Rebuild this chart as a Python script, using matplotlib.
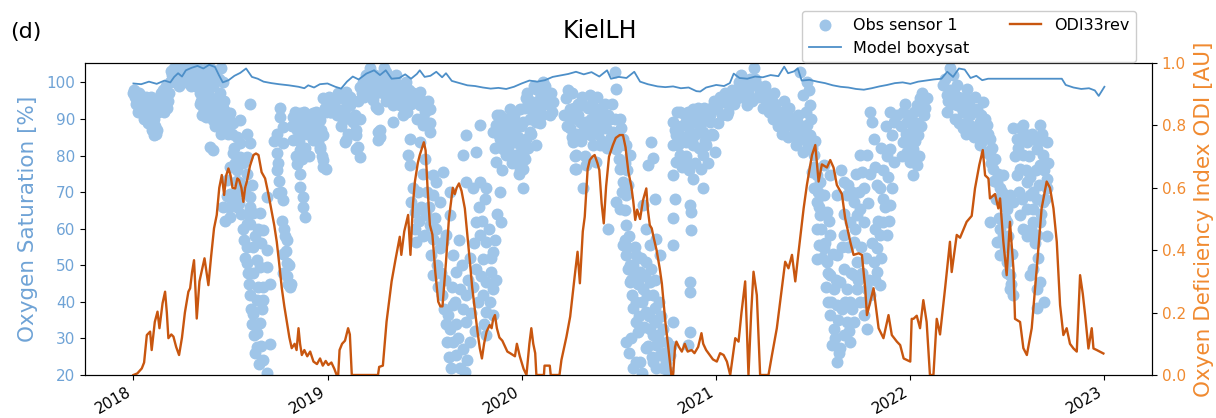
import numpy as np
import pandas as pd
import matplotlib
matplotlib.use("Agg")
import matplotlib.pyplot as plt

# ---------------- data (time as decimal years) ----------------
odi_t = [2018.000, 2018.020, 2018.043, 2018.055, 2018.069, 2018.086, 2018.094, 2018.110, 2018.124, 2018.134,
         2018.150, 2018.163, 2018.172, 2018.180, 2018.195, 2018.206, 2018.220, 2018.235, 2018.250, 2018.265,
         2018.283, 2018.292, 2018.302, 2018.312, 2018.319, 2018.326, 2018.340, 2018.355, 2018.366, 2018.376,
         2018.386, 2018.400, 2018.415, 2018.429, 2018.442, 2018.455, 2018.467, 2018.478, 2018.489, 2018.500,
         2018.510, 2018.524, 2018.535, 2018.544, 2018.556, 2018.566, 2018.575, 2018.584, 2018.600, 2018.618,
         2018.631, 2018.644, 2018.660, 2018.678, 2018.695, 2018.712, 2018.725, 2018.738, 2018.750, 2018.764,
         2018.777, 2018.790, 2018.803, 2018.815, 2018.830, 2018.840, 2018.850, 2018.858, 2018.867, 2018.880,
         2018.895, 2018.910, 2018.927, 2018.945, 2018.961, 2018.975, 2018.990, 2019.004, 2019.020, 2019.035,
         2019.047, 2019.055, 2019.062, 2019.075, 2019.090, 2019.106, 2019.115, 2019.125, 2019.260, 2019.266,
         2019.285, 2019.304, 2019.330, 2019.350, 2019.372, 2019.380, 2019.395, 2019.415, 2019.427, 2019.440,
         2019.450, 2019.465, 2019.475, 2019.496, 2019.505, 2019.515, 2019.527, 2019.540, 2019.555, 2019.570,
         2019.581, 2019.592, 2019.610, 2019.625, 2019.638, 2019.645, 2019.655, 2019.665, 2019.677, 2019.690,
         2019.707, 2019.720, 2019.733, 2019.745, 2019.758, 2019.772, 2019.784, 2019.795, 2019.806, 2019.819,
         2019.835, 2019.845, 2019.853, 2019.862, 2019.872, 2019.885, 2019.900, 2019.915, 2019.926, 2019.940,
         2019.955, 2019.965, 2019.975, 2019.990, 2020.010, 2020.025, 2020.040, 2020.050, 2020.060, 2020.070,
         2020.076, 2020.115, 2020.118, 2020.145, 2020.150, 2020.195, 2020.205, 2020.231, 2020.250, 2020.273,
         2020.288, 2020.300, 2020.315, 2020.325, 2020.340, 2020.351, 2020.365, 2020.376, 2020.390, 2020.400,
         2020.412, 2020.423, 2020.435, 2020.450, 2020.470, 2020.485, 2020.505, 2020.522, 2020.535, 2020.550,
         2020.565, 2020.575, 2020.585, 2020.595, 2020.610, 2020.625, 2020.642, 2020.650, 2020.660, 2020.670,
         2020.680, 2020.695, 2020.711, 2020.722, 2020.740, 2020.755, 2020.771, 2020.780, 2020.790, 2020.797,
         2020.810, 2020.825, 2020.840, 2020.855, 2020.875, 2020.890, 2020.909, 2020.926, 2020.935, 2020.950,
         2020.969, 2020.985, 2021.003, 2021.020, 2021.038, 2021.055, 2021.072, 2021.098, 2021.115, 2021.130,
         2021.149, 2021.166, 2021.180, 2021.192, 2021.209, 2021.226, 2021.269, 2021.287, 2021.312, 2021.338,
         2021.355, 2021.372, 2021.390, 2021.407, 2021.424, 2021.450, 2021.467, 2021.493, 2021.510, 2021.527,
         2021.544, 2021.570, 2021.587, 2021.604, 2021.621, 2021.647, 2021.664, 2021.690, 2021.707, 2021.733,
         2021.750, 2021.767, 2021.776, 2021.793, 2021.810, 2021.836, 2021.861, 2021.887, 2021.904, 2021.930,
         2021.947, 2021.965, 2021.999, 2022.007, 2022.016, 2022.033, 2022.050, 2022.067, 2022.084, 2022.101,
         2022.119, 2022.136, 2022.153, 2022.179, 2022.204, 2022.213, 2022.239, 2022.256, 2022.290, 2022.316,
         2022.333, 2022.355, 2022.373, 2022.385, 2022.402, 2022.410, 2022.436, 2022.453, 2022.462, 2022.479,
         2022.496, 2022.513, 2022.531, 2022.539, 2022.565, 2022.582, 2022.600, 2022.625, 2022.651, 2022.676,
         2022.702, 2022.719, 2022.737, 2022.754, 2022.771, 2022.788, 2022.805, 2022.822, 2022.840, 2022.857,
         2022.874, 2022.888, 2022.900, 2022.917, 2022.934, 2022.943, 2022.960, 2022.994]
odi_v = [0.0, 0.005, 0.021, 0.04, 0.128, 0.139, 0.08, 0.17, 0.203, 0.15,
         0.23, 0.267, 0.20, 0.118, 0.13, 0.123, 0.09, 0.064, 0.12, 0.20,
         0.267, 0.278, 0.33, 0.368, 0.28, 0.181, 0.30, 0.342, 0.374, 0.33,
         0.288, 0.38, 0.47, 0.513, 0.60, 0.641, 0.577, 0.64, 0.662, 0.64,
         0.60, 0.598, 0.63, 0.625, 0.60, 0.555, 0.60, 0.62, 0.67, 0.705,
         0.71, 0.705, 0.65, 0.63, 0.58, 0.523, 0.48, 0.427, 0.36, 0.278,
         0.22, 0.171, 0.12, 0.086, 0.10, 0.08, 0.15, 0.10, 0.064, 0.08,
         0.06, 0.075, 0.043, 0.035, 0.053, 0.03, 0.045, 0.032, 0.04, 0.02,
         0.0, 0.0, 0.08, 0.10, 0.11, 0.15, 0.13, 0.0, 0.0, 0.026,
         0.03, 0.171, 0.30, 0.37, 0.443, 0.385, 0.46, 0.513, 0.385, 0.55,
         0.62, 0.68, 0.705, 0.746, 0.72, 0.60, 0.481, 0.45, 0.33, 0.235,
         0.22, 0.22, 0.363, 0.50, 0.566, 0.60, 0.58, 0.60, 0.614, 0.59,
         0.534, 0.45, 0.363, 0.28, 0.214, 0.14, 0.086, 0.053, 0.10, 0.139,
         0.16, 0.15, 0.18, 0.192, 0.15, 0.12, 0.11, 0.09, 0.075, 0.07,
         0.064, 0.06, 0.10, 0.06, 0.02, 0.0, 0.10, 0.15, 0.10, 0.07,
         0.0, 0.0, 0.03, 0.03, 0.0, 0.0, 0.048, 0.123, 0.187, 0.315,
         0.395, 0.294, 0.46, 0.507, 0.66, 0.689, 0.70, 0.705, 0.68, 0.657,
         0.55, 0.486, 0.604, 0.70, 0.737, 0.76, 0.769, 0.769, 0.73, 0.65,
         0.604, 0.556, 0.497, 0.53, 0.50, 0.56, 0.598, 0.53, 0.48, 0.47,
         0.44, 0.40, 0.342, 0.294, 0.171, 0.09, 0.0, 0.0, 0.09, 0.107,
         0.09, 0.075, 0.10, 0.075, 0.08, 0.07, 0.09, 0.134, 0.10, 0.08,
         0.064, 0.05, 0.043, 0.07, 0.064, 0.043, 0.0, 0.118, 0.107, 0.20,
         0.30, 0.0, 0.20, 0.331, 0.256, 0.0, 0.0, 0.064, 0.15, 0.278,
         0.363, 0.342, 0.385, 0.30, 0.395, 0.534, 0.61, 0.705, 0.737, 0.62,
         0.675, 0.665, 0.689, 0.665, 0.609, 0.58, 0.502, 0.427, 0.385, 0.39,
         0.385, 0.278, 0.192, 0.235, 0.278, 0.15, 0.118, 0.192, 0.128, 0.107,
         0.096, 0.053, 0.043, 0.18, 0.18, 0.19, 0.15, 0.24, 0.17, 0.0,
         0.0, 0.18, 0.13, 0.278, 0.427, 0.33, 0.449, 0.44, 0.491, 0.51,
         0.598, 0.673, 0.721, 0.64, 0.63, 0.566, 0.58, 0.534, 0.566, 0.427,
         0.32, 0.491, 0.34, 0.18, 0.17, 0.086, 0.064, 0.15, 0.342, 0.534,
         0.62, 0.60, 0.534, 0.427, 0.224, 0.128, 0.15, 0.10, 0.085, 0.075,
         0.32, 0.26, 0.192, 0.085, 0.15, 0.085, 0.08, 0.069]

model_t = [2018.00, 2018.04, 2018.08, 2018.12, 2018.16, 2018.19, 2018.21, 2018.23, 2018.25, 2018.27,
           2018.30, 2018.33, 2018.36, 2018.39, 2018.42, 2018.44, 2018.46, 2018.49, 2018.52, 2018.55,
           2018.58, 2018.61, 2018.64, 2018.67, 2018.71, 2018.75, 2018.80, 2018.85, 2018.88, 2018.90,
           2018.93, 2018.96, 2019.00, 2019.04, 2019.07, 2019.10, 2019.13, 2019.16, 2019.20, 2019.24,
           2019.27, 2019.30, 2019.33, 2019.37, 2019.40, 2019.43, 2019.46, 2019.475, 2019.50, 2019.53,
           2019.56, 2019.59, 2019.61, 2019.64, 2019.68, 2019.72, 2019.76, 2019.80, 2019.84, 2019.88,
           2019.92, 2019.96, 2020.00, 2020.04, 2020.08, 2020.12, 2020.16, 2020.20, 2020.24, 2020.28,
           2020.32, 2020.36, 2020.40, 2020.44, 2020.46, 2020.50, 2020.54, 2020.58, 2020.61, 2020.65,
           2020.70, 2020.74, 2020.78, 2020.82, 2020.86, 2020.90, 2020.92, 2020.95, 2021.00, 2021.04,
           2021.07, 2021.09, 2021.12, 2021.16, 2021.20, 2021.24, 2021.28, 2021.32, 2021.35, 2021.37,
           2021.40, 2021.42, 2021.44, 2021.48, 2021.52, 2021.56, 2021.60, 2021.64, 2021.68, 2021.72,
           2021.76, 2021.80, 2021.84, 2021.88, 2021.92, 2021.96, 2022.00, 2022.04, 2022.08, 2022.12,
           2022.16, 2022.19, 2022.22, 2022.25, 2022.28, 2022.31, 2022.34, 2022.37, 2022.40, 2022.41,
           2022.78, 2022.80, 2022.84, 2022.88, 2022.92, 2022.95, 2022.97, 2022.99, 2023.00]
model_v = [99.7, 99.5, 100.2, 99.6, 100.5, 100.0, 101.5, 102.5, 101.6, 103.3,
           104.0, 104.5, 103.8, 104.8, 104.2, 102.0, 100.0, 100.6, 101.8, 102.6,
           103.8, 101.5, 101.0, 100.2, 99.8, 99.5, 99.2, 98.8, 98.4, 99.2,
           98.6, 99.5, 99.7, 98.8, 98.3, 100.2, 101.6, 100.8, 102.4, 103.3,
           102.0, 103.3, 101.0, 101.2, 102.2, 101.0, 102.3, 103.3, 101.5, 101.8,
           102.9, 101.4, 102.5, 100.4, 99.8, 99.2, 99.0, 98.6, 98.3, 98.5,
           98.2, 98.8, 99.7, 100.5, 100.2, 100.6, 101.5, 101.9, 102.3, 102.9,
           102.2, 102.8, 101.6, 103.3, 101.0, 101.5, 101.2, 102.9, 100.2, 99.5,
           98.9, 98.7, 98.9, 98.4, 98.6, 97.6, 97.5, 98.6, 99.3, 99.0,
           99.8, 102.4, 101.2, 101.0, 101.6, 101.4, 102.0, 101.7, 104.3, 102.5,
           103.0, 103.8, 100.5, 100.7, 100.2, 99.8, 99.2, 98.8, 98.6, 98.2,
           98.0, 98.4, 98.9, 99.3, 99.8, 100.0, 99.6, 100.2, 100.5, 100.8,
           101.0, 102.9, 101.5, 103.8, 103.5, 101.2, 101.8, 100.6, 101.0, 101.0,
           101.0, 99.3, 98.6, 98.2, 98.4, 97.8, 96.3, 98.0, 98.8]

obs_2018 = [(2018.000, 97), (2018.010, 96), (2018.020, 95), (2018.030, 97), (2018.035, 94), (2018.045, 93),
            (2018.050, 96), (2018.060, 92), (2018.070, 94), (2018.080, 91), (2018.085, 89), (2018.090, 96),
            (2018.100, 93), (2018.105, 90), (2018.110, 88), (2018.115, 86), (2018.120, 87), (2018.125, 92),
            (2018.130, 95), (2018.140, 97), (2018.150, 98), (2018.160, 96), (2018.170, 99), (2018.180, 95),
            (2018.005, 98), (2018.015, 94), (2018.025, 92), (2018.04, 95), (2018.055, 90), (2018.065, 96),
            (2018.075, 89), (2018.095, 87), (2018.105, 85.5), (2018.135, 93), (2018.145, 94), (2018.155, 92),
            (2018.165, 97), (2018.175, 93), (2018.185, 97),
            (2018.19, 100), (2018.20, 102), (2018.21, 104), (2018.22, 101), (2018.23, 103), (2018.24, 105),
            (2018.25, 102), (2018.26, 104), (2018.27, 100), (2018.28, 103), (2018.29, 101), (2018.30, 105),
            (2018.31, 102), (2018.32, 99), (2018.33, 104), (2018.34, 101), (2018.35, 100), (2018.36, 103),
            (2018.37, 102), (2018.38, 104), (2018.39, 100), (2018.40, 102), (2018.42, 103), (2018.44, 101),
            (2018.195, 103), (2018.215, 100), (2018.235, 99), (2018.255, 104.5), (2018.275, 101), (2018.295, 99),
            (2018.315, 104), (2018.335, 99), (2018.355, 102), (2018.375, 100), (2018.395, 104), (2018.41, 99),
            (2018.43, 101), (2018.45, 104), (2018.46, 100),
            (2018.342, 97), (2018.36, 93.3), (2018.376, 90.6), (2018.41, 89.7), (2018.445, 91.5), (2018.462, 87.9),
            (2018.445, 97), (2018.428, 93.3), (2018.394, 82.4), (2018.41, 81.5), (2018.35, 95), (2018.37, 96),
            (2018.39, 94), (2018.40, 92), (2018.42, 88), (2018.43, 90), (2018.45, 86), (2018.46, 93),
            (2018.47, 90), (2018.48, 88), (2018.345, 94), (2018.355, 91), (2018.365, 98), (2018.38, 91),
            (2018.385, 97), (2018.395, 96), (2018.405, 94), (2018.415, 95), (2018.425, 91), (2018.435, 88),
            (2018.44, 94), (2018.455, 89), (2018.465, 95), (2018.475, 92), (2018.485, 86), (2018.49, 90),
            (2018.497, 91.5), (2018.514, 88.8), (2018.531, 85.1), (2018.548, 83.3), (2018.514, 80.6), (2018.497, 77),
            (2018.48, 73.3), (2018.497, 69.6), (2018.462, 66), (2018.497, 63.3), (2018.531, 66), (2018.514, 68),
            (2018.548, 72.4), (2018.548, 79.7), (2018.531, 76), (2018.548, 89.7), (2018.60, 94.2), (2018.583, 86),
            (2018.60, 83.3), (2018.583, 79.7), (2018.583, 75), (2018.60, 68.7), (2018.60, 66), (2018.583, 61.4),
            (2018.60, 61.4), (2018.583, 55), (2018.617, 55), (2018.634, 51.4), (2018.583, 50.5), (2018.617, 47.8),
            (2018.651, 49.6), (2018.686, 49.6), (2018.669, 59.6), (2018.686, 54.2), (2018.669, 44.1), (2018.634, 40.5),
            (2018.669, 40.5), (2018.617, 36.8), (2018.651, 34.1), (2018.634, 31.4), (2018.634, 27.7), (2018.669, 24.1),
            (2018.686, 20.5), (2018.703, 28.6), (2018.703, 45), (2018.651, 64.2), (2018.686, 68.7), (2018.617, 64.2),
            (2018.505, 86), (2018.52, 82), (2018.525, 78), (2018.535, 73), (2018.54, 70), (2018.545, 67),
            (2018.555, 64), (2018.565, 60), (2018.57, 57), (2018.575, 52), (2018.59, 48), (2018.595, 45),
            (2018.60, 42), (2018.605, 38), (2018.61, 34), (2018.62, 31), (2018.625, 26), (2018.645, 23),
            (2018.655, 28), (2018.66, 38), (2018.64, 44), (2018.625, 58), (2018.64, 60), (2018.655, 56),
            (2018.61, 72), (2018.565, 78), (2018.575, 70), (2018.59, 64), (2018.48, 69), (2018.47, 62),
            (2018.49, 66),
            (2018.737, 80.6), (2018.737, 76), (2018.746, 69.7), (2018.771, 67.8), (2018.789, 56.9), (2018.771, 53.2),
            (2018.789, 50.5), (2018.771, 47.8), (2018.797, 45), (2018.806, 44), (2018.754, 92.9), (2018.754, 90.6),
            (2018.771, 87.9), (2018.737, 86), (2018.771, 83.3), (2018.823, 90.6), (2018.84, 86.9), (2018.823, 84.2),
            (2018.857, 81.5), (2018.84, 77.8), (2018.857, 75), (2018.857, 71.5), (2018.874, 68.7), (2018.874, 66),
            (2018.883, 63.3), (2018.857, 91.5), (2018.891, 89.7), (2018.926, 91.5), (2018.96, 89.7), (2018.943, 86),
            (2018.96, 82.4), (2018.977, 78.8), (2018.977, 76.9), (2018.926, 84.2), (2018.909, 87), (2018.874, 86),
            (2018.725, 84), (2018.745, 78), (2018.75, 73), (2018.76, 70), (2018.765, 62), (2018.775, 60),
            (2018.78, 58), (2018.785, 54), (2018.79, 47), (2018.80, 50), (2018.81, 45),
            (2018.815, 88), (2018.83, 92), (2018.835, 80), (2018.845, 89), (2018.85, 84), (2018.865, 88),
            (2018.87, 79), (2018.88, 92), (2018.885, 82), (2018.895, 86), (2018.90, 91), (2018.905, 80),
            (2018.915, 88), (2018.92, 86), (2018.935, 89), (2018.94, 92), (2018.95, 84), (2018.955, 91),
            (2018.965, 87), (2018.97, 80), (2018.985, 93),
            (2018.995, 95.1), (2018.977, 95.6), (2018.994, 91.9), (2018.977, 85.5), (2018.96, 81.9), (2018.994, 76.4)]

obs_2019 = [(2019.029, 94.2), (2019.063, 92.4), (2019.097, 93.3), (2019.115, 96), (2019.132, 90.6), (2019.149, 86.9),
            (2019.157, 82.4), (2019.166, 79.7), (2019.08, 89.7), (2019.097, 84.2), (2019.166, 98.8), (2019.20, 97),
            (2019.235, 95.1), (2019.252, 93.3), (2019.269, 86.9), (2019.269, 85.1), (2019.011, 91.9), (2019.08, 95.6),
            (2019.097, 97.4), (2019.115, 93.7), (2019.132, 89.2), (2019.149, 85.5), (2019.149, 81.9), (2019.089, 83.7),
            (2019.166, 90.1), (2019.2, 101.9), (2019.217, 103.8), (2019.252, 100.1), (2019.26, 92.8), (2019.26, 86.5),
            (2019.26, 84.2), (2019.303, 102.8), (2019.32, 99.2), (2019.338, 93.7), (2019.338, 89.2), (2019.372, 93.7),
            (2019.389, 91), (2019.406, 95.6), (2019.389, 98.3), (2019.355, 101.9), (2019.406, 100.1), (2019.42, 98),
            (2019.285, 97), (2019.30, 95), (2019.32, 96), (2019.35, 97), (2019.37, 99), (2019.25, 97),
            (2019.01, 96), (2019.02, 92), (2019.04, 95), (2019.05, 91), (2019.055, 97), (2019.07, 88),
            (2019.085, 92), (2019.105, 86), (2019.12, 95), (2019.14, 91), (2019.155, 95), (2019.175, 97),
            (2019.185, 100), (2019.19, 96), (2019.21, 99), (2019.225, 101), (2019.24, 99), (2019.245, 102),
            (2019.27, 99), (2019.28, 101), (2019.29, 104), (2019.31, 100), (2019.33, 98), (2019.345, 100),
            (2019.36, 95), (2019.38, 96), (2019.395, 93), (2019.40, 98), (2019.41, 92), (2019.43, 94),
            (2019.44, 97), (2019.455, 95), (2019.46, 90), (2019.485, 95), (2019.50, 92), (2019.515, 95),
            (2019.53, 89),
            (2019.423, 84.6), (2019.415, 80.1), (2019.423, 77.3), (2019.44, 71), (2019.432, 67.3), (2019.449, 64.6),
            (2019.449, 60), (2019.458, 56.4), (2019.475, 97.4), (2019.475, 93.7), (2019.492, 88.3), (2019.475, 83.7),
            (2019.509, 89.2), (2019.526, 92.8), (2019.526, 86.5), (2019.509, 63.7), (2019.5, 58.2), (2019.544, 74.6),
            (2019.544, 69.1), (2019.561, 72.8), (2019.595, 75.5), (2019.578, 67.3), (2019.544, 57.3), (2019.535, 52.8),
            (2019.544, 47.3), (2019.629, 70.1), (2019.629, 63.7), (2019.612, 58.2), (2019.595, 56.4), (2019.578, 54.6),
            (2019.647, 52.8), (2019.664, 48.2), (2019.681, 43.6), (2019.647, 39.1), (2019.621, 36.4), (2019.629, 32.7),
            (2019.647, 29.1), (2019.664, 25.4), (2019.681, 21.8), (2019.715, 41.8), (2019.715, 34.5), (2019.732, 29.1),
            (2019.707, 20.9), (2019.715, 72.8), (2019.749, 71), (2019.784, 72.8), (2019.818, 71), (2019.767, 61.9),
            (2019.784, 58.2), (2019.818, 56.4), (2019.801, 51.8), (2019.767, 49.1), (2019.818, 45.5), (2019.801, 41.8),
            (2019.818, 37.3), (2019.818, 30.9), (2019.853, 36.4), (2019.853, 43.6), (2019.853, 53.7), (2019.844, 48.2),
            (2019.895, 61.9), (2019.887, 70), (2019.698, 80.1), (2019.767, 81), (2019.784, 88.3), (2019.715, 85.5),
            (2019.465, 70), (2019.47, 62), (2019.48, 66), (2019.49, 58), (2019.49, 75), (2019.50, 79),
            (2019.51, 70), (2019.52, 66), (2019.53, 61), (2019.555, 63), (2019.56, 60), (2019.565, 50),
            (2019.57, 44), (2019.585, 48), (2019.59, 42), (2019.60, 38), (2019.605, 46), (2019.61, 34),
            (2019.615, 29), (2019.625, 25), (2019.635, 22), (2019.64, 44), (2019.655, 40), (2019.66, 34),
            (2019.67, 30), (2019.675, 57), (2019.69, 50), (2019.695, 38), (2019.70, 27), (2019.72, 24),
            (2019.725, 46), (2019.735, 52), (2019.74, 37), (2019.75, 44), (2019.755, 56), (2019.76, 32),
            (2019.775, 40), (2019.78, 66), (2019.79, 47), (2019.795, 62), (2019.805, 34), (2019.81, 68),
            (2019.83, 60), (2019.835, 40), (2019.84, 52), (2019.86, 57), (2019.865, 46), (2019.875, 64),
            (2019.853, 86.5), (2019.87, 88.3), (2019.887, 84.6), (2019.904, 81.9), (2019.921, 86.5), (2019.938, 89.2),
            (2019.956, 83.7), (2019.973, 80.1), (2019.99, 78.3), (2019.99, 82.8), (2020.007, 76.4), (2020.007, 71),
            (2019.938, 92.8), (2019.921, 80.1), (2019.87, 78.3), (2019.887, 91), (2019.973, 89.2),
            (2019.86, 82), (2019.875, 91), (2019.88, 86), (2019.895, 88), (2019.90, 76), (2019.91, 84),
            (2019.915, 90), (2019.93, 82), (2019.945, 86), (2019.95, 78), (2019.96, 91), (2019.965, 87),
            (2019.98, 85), (2019.985, 75), (2019.995, 88)]

obs_2020 = [(2020.024, 95.6), (2020.058, 93.7), (2020.075, 98.3), (2020.041, 90.1), (2019.99, 92.8), (2020.007, 89.2),
            (2020.024, 84.6), (2020.007, 80.1), (2019.99, 76.4), (2020.041, 86.5), (2020.059, 91), (2020.076, 82.8),
            (2020.093, 97.4), (2020.110, 93.7), (2020.127, 96.5), (2020.144, 91), (2020.162, 94.6), (2020.076, 89.2),
            (2020.11, 100.1), (2020.015, 93), (2020.02, 79), (2020.03, 97), (2020.035, 82), (2020.045, 95),
            (2020.05, 86), (2020.065, 99), (2020.07, 92), (2020.085, 95), (2020.095, 89), (2020.10, 96),
            (2020.105, 91), (2020.12, 99), (2020.135, 94), (2020.15, 97), (2020.155, 92),
            (2020.23, 95.6), (2020.247, 92.8), (2020.247, 87.4), (2020.265, 83.7), (2020.282, 80.1),
            (2020.273, 76.4), (2020.316, 71), (2020.299, 89.2), (2020.316, 93.7), (2020.333, 89.2), (2020.35, 96.5),
            (2020.359, 85.5), (2020.385, 91.9), (2020.402, 89.2), (2020.419, 91), (2020.436, 87.4), (2020.453, 90.1),
            (2020.471, 86.5), (2020.471, 83.7), (2020.488, 81.9), (2020.505, 90.1), (2020.514, 87.4), (2020.522, 84.6),
            (2020.539, 82.8), (2020.556, 80.1), (2020.505, 76.4), (2020.522, 72.8), (2020.539, 69.1), (2020.488, 67.3),
            (2020.505, 65.5), (2020.539, 60.9), (2020.445, 60), (2020.479, 102.8), (2020.488, 98.3), (2020.402, 82.8),
            (2020.385, 78.3), (2020.333, 77.3), (2020.282, 76.4), (2020.26, 97), (2020.29, 94), (2020.37, 93),
            (2020.22, 91), (2020.235, 88), (2020.24, 98), (2020.255, 90), (2020.26, 85), (2020.27, 93),
            (2020.275, 80), (2020.285, 86), (2020.29, 91), (2020.305, 84), (2020.31, 96), (2020.32, 87),
            (2020.325, 80), (2020.34, 93), (2020.345, 86), (2020.355, 90), (2020.365, 94), (2020.37, 83),
            (2020.375, 88), (2020.39, 96), (2020.395, 86), (2020.41, 93), (2020.415, 84), (2020.425, 88),
            (2020.43, 94), (2020.44, 82), (2020.445, 91), (2020.46, 85), (2020.465, 94), (2020.48, 90),
            (2020.495, 85), (2020.50, 79), (2020.51, 83), (2020.53, 78), (2020.545, 76), (2020.55, 72),
            (2020.515, 70), (2020.53, 65),
            (2020.522, 55.5), (2020.539, 52.8), (2020.548, 49.1), (2020.556, 45.5), (2020.573, 50), (2020.591, 52.8),
            (2020.608, 48.2), (2020.625, 43.6), (2020.642, 50.9), (2020.659, 45.5), (2020.677, 41.8), (2020.685, 38.2),
            (2020.659, 55.5), (2020.642, 60), (2020.694, 57.3), (2020.711, 52.8), (2020.573, 38.2), (2020.591, 34.5),
            (2020.599, 31.8), (2020.659, 32.7), (2020.677, 30.9), (2020.694, 28.2), (2020.711, 25.4), (2020.677, 23.6),
            (2020.728, 21.8), (2020.745, 23.6), (2020.762, 25.4), (2020.642, 27.3), (2020.608, 23.6), (2020.539, 29.1),
            (2020.591, 23.6), (2020.694, 34.5), (2020.728, 32.7), (2020.78, 34.5), (2020.642, 37.3), (2020.668, 83.7),
            (2020.677, 79.2), (2020.651, 77.3), (2020.685, 68.2), (2020.625, 66.4), (2020.78, 62.8), (2020.788, 68.2),
            (2020.865, 66.4), (2020.874, 64.6), (2020.874, 59.6), (2020.865, 45.5), (2020.865, 42.8), (2020.865, 31.8),
            (2020.857, 28.2), (2020.78, 55.5),
            (2020.53, 57), (2020.545, 55), (2020.555, 58), (2020.56, 50), (2020.565, 46), (2020.57, 42),
            (2020.58, 47), (2020.585, 55), (2020.59, 40), (2020.60, 45), (2020.605, 36), (2020.615, 52),
            (2020.62, 40), (2020.63, 33), (2020.635, 47), (2020.645, 42), (2020.65, 28), (2020.655, 36),
            (2020.665, 49), (2020.67, 25), (2020.68, 35), (2020.685, 46), (2020.69, 22), (2020.70, 31),
            (2020.705, 40), (2020.715, 29), (2020.72, 36), (2020.735, 26), (2020.75, 29), (2020.755, 21),
            (2020.77, 28), (2020.555, 26), (2020.565, 30), (2020.575, 22), (2020.62, 20.5),
            (2020.78, 89.2), (2020.797, 85.5), (2020.78, 82.8), (2020.797, 78.3),
            (2020.78, 74.6), (2020.814, 91.9), (2020.848, 89.2), (2020.865, 86.5), (2020.848, 83.7), (2020.883, 82.8),
            (2020.883, 92.8), (2020.917, 91), (2020.934, 86.5), (2020.951, 82.8), (2020.934, 80.1), (2020.925, 76.4),
            (2020.934, 71), (2020.968, 89.2), (2021.003, 92.8), (2021.02, 94.6), (2021.054, 95.6), (2021.089, 96.5),
            (2020.883, 73.7), (2020.848, 78.3), (2020.814, 80.1),
            (2020.79, 87), (2020.80, 92), (2020.805, 83), (2020.82, 88), (2020.825, 77), (2020.83, 85),
            (2020.84, 91), (2020.845, 80), (2020.855, 92), (2020.86, 76), (2020.87, 89), (2020.875, 84),
            (2020.89, 90), (2020.895, 78), (2020.90, 86), (2020.91, 93), (2020.915, 82), (2020.92, 88),
            (2020.94, 93), (2020.945, 84), (2020.955, 90), (2020.96, 78), (2020.975, 93), (2020.98, 86),
            (2020.99, 95)]

obs_2021 = [(2020.969, 91), (2020.986, 85.5), (2020.995, 81), (2021.038, 94.6), (2021.072, 93.7), (2021.106, 95.6),
            (2021.141, 98.3), (2021.175, 101), (2021.192, 103.8), (2021.209, 99.2), (2021.227, 97.4), (2021.244, 95.6),
            (2021.261, 94.6), (2021.278, 96.5), (2021.295, 93.7), (2021.312, 91.9), (2021.329, 89.2), (2021.347, 87.4),
            (2021.364, 91), (2021.381, 88.3), (2021.398, 85.5), (2021.415, 89.2), (2021.432, 86.5), (2021.449, 84.6),
            (2021.467, 88.3), (2021.484, 85.5), (2021.449, 96.5), (2021.467, 100.1), (2021.432, 102.8), (2021.484, 93.7),
            (2021.158, 93.7), (2021.055, 91), (2021.12, 97), (2021.25, 99), (2021.30, 97), (2021.35, 95),
            (2021.01, 89), (2021.02, 96), (2021.03, 91), (2021.045, 97), (2021.06, 92), (2021.065, 96),
            (2021.08, 98), (2021.09, 94), (2021.10, 97), (2021.115, 100), (2021.125, 96), (2021.13, 102),
            (2021.15, 100), (2021.165, 97), (2021.18, 99), (2021.185, 95), (2021.20, 101), (2021.215, 96),
            (2021.235, 98), (2021.24, 93), (2021.255, 97), (2021.27, 92), (2021.285, 95), (2021.29, 90),
            (2021.305, 94), (2021.32, 88), (2021.335, 92), (2021.34, 86), (2021.355, 90), (2021.37, 85),
            (2021.375, 93), (2021.39, 90), (2021.405, 87), (2021.41, 83), (2021.42, 91), (2021.44, 88),
            (2021.445, 81), (2021.455, 86), (2021.46, 92), (2021.475, 83), (2021.48, 98), (2021.49, 90),
            (2021.495, 82),
            (2021.501, 80.1), (2021.492, 75.5), (2021.501, 71), (2021.518, 67.3), (2021.535, 63.7), (2021.518, 60),
            (2021.527, 55.5), (2021.518, 51.8), (2021.553, 54.6), (2021.57, 50.9), (2021.587, 47.3), (2021.604, 43.6),
            (2021.578, 40), (2021.587, 36.4), (2021.604, 32.7), (2021.595, 28.2), (2021.621, 23.6), (2021.638, 27.3),
            (2021.656, 30.9), (2021.69, 29.1), (2021.673, 34.5), (2021.621, 39.1), (2021.638, 45.5), (2021.656, 49.1),
            (2021.673, 43.6), (2021.69, 40), (2021.621, 52.8), (2021.587, 58.2), (2021.57, 64.6), (2021.553, 69.1),
            (2021.535, 72.8), (2021.518, 74.6), (2021.553, 77.3), (2021.587, 74.6), (2021.621, 69.1), (2021.656, 72.8),
            (2021.673, 69.1), (2021.707, 67.3), (2021.724, 63.7), (2021.741, 65.5), (2021.759, 61.9), (2021.69, 61.9),
            (2021.656, 58.2), (2021.707, 56.4), (2021.724, 50.9), (2021.707, 47.3), (2021.724, 43.6), (2021.741, 40),
            (2021.759, 36.4), (2021.776, 32.7), (2021.707, 34.5), (2021.776, 43.6), (2021.793, 41.8), (2021.81, 50.9),
            (2021.827, 54.6), (2021.844, 58.2), (2021.861, 61.9), (2021.879, 58.2), (2021.896, 66.4), (2021.904, 71),
            (2021.827, 48.2), (2021.844, 44.6), (2021.741, 80.1), (2021.75, 75.5), (2021.793, 91.9), (2021.801, 89.2),
            (2021.81, 84.6), (2021.776, 80.1), (2021.844, 71), (2021.861, 68.2), (2021.896, 91.9), (2021.913, 89.2),
            (2021.904, 85.5), (2021.896, 81.9), (2021.913, 78.3), (2021.93, 91), (2021.964, 91.9), (2021.981, 89.2),
            (2021.505, 77), (2021.51, 84), (2021.525, 70), (2021.53, 66), (2021.54, 60), (2021.545, 52),
            (2021.56, 56), (2021.565, 44), (2021.575, 48), (2021.58, 62), (2021.59, 40), (2021.60, 53),
            (2021.61, 30), (2021.615, 46), (2021.625, 35), (2021.63, 26), (2021.645, 38), (2021.65, 55),
            (2021.665, 40), (2021.68, 55), (2021.685, 32), (2021.695, 48), (2021.70, 38), (2021.715, 60),
            (2021.73, 46), (2021.745, 55), (2021.75, 48), (2021.765, 40), (2021.77, 52), (2021.785, 46),
            (2021.80, 56), (2021.815, 60), (2021.82, 46), (2021.835, 62), (2021.85, 52), (2021.87, 66),
            (2021.89, 62), (2021.885, 74),
            (2021.64, 76), (2021.66, 64), (2021.68, 72), (2021.70, 70), (2021.72, 75), (2021.735, 70),
            (2021.76, 71), (2021.78, 67), (2021.79, 75), (2021.82, 77), (2021.83, 72), (2021.85, 82),
            (2021.86, 76), (2021.875, 88), (2021.88, 80)]

obs_2022 = [(2021.999, 85.5), (2022.016, 81.9), (2022.0, 78.3), (2022.016, 74.6), (2022.033, 93.7), (2022.05, 95.6),
            (2022.085, 95.6), (2022.068, 91), (2021.964, 83.7), (2021.981, 81), (2021.998, 91), (2022.016, 87.4),
            (2022.033, 77.3), (2022.041, 85.5), (2022.05, 92.8), (2022.067, 95.6),
            (2021.95, 88), (2021.955, 80), (2021.97, 94), (2021.975, 86), (2021.99, 84), (2022.005, 90),
            (2022.01, 80), (2022.02, 92), (2022.025, 84), (2022.035, 89), (2022.045, 80), (2022.055, 88),
            (2022.06, 97), (2022.075, 93),
            (2022.204, 103.8), (2022.222, 101.9),
            (2022.239, 99.2), (2022.187, 96.5), (2022.187, 91.9), (2022.256, 95.6), (2022.273, 91.9), (2022.29, 89.2),
            (2022.273, 87.4), (2022.307, 91), (2022.325, 87.4), (2022.342, 92.8), (2022.359, 89.2), (2022.376, 86.5),
            (2022.393, 88.3), (2022.41, 84.6), (2022.359, 82.8), (2022.376, 94.6), (2022.29, 98.3), (2022.239, 93.7),
            (2022.17, 99.2),
            (2022.18, 101), (2022.195, 95), (2022.205, 98), (2022.215, 94), (2022.225, 97), (2022.23, 90),
            (2022.245, 96), (2022.25, 89), (2022.265, 93), (2022.28, 96), (2022.285, 86), (2022.30, 94),
            (2022.31, 88), (2022.32, 92), (2022.33, 85), (2022.335, 96), (2022.35, 87), (2022.365, 91),
            (2022.37, 84), (2022.385, 90), (2022.39, 81), (2022.40, 86), (2022.415, 78), (2022.42, 82),
            (2022.43, 73), (2022.435, 79), (2022.44, 68), (2022.45, 75), (2022.455, 63), (2022.47, 70),
            (2022.475, 58), (2022.485, 63), (2022.49, 55), (2022.50, 48), (2022.505, 58), (2022.52, 45),
            (2022.525, 53),
            (2022.41, 80.1), (2022.427, 76.4), (2022.445, 72.8), (2022.462, 71), (2022.479, 67.3),
            (2022.496, 65.5), (2022.513, 69.1), (2022.531, 67.3), (2022.496, 61.9), (2022.462, 60), (2022.445, 56.4),
            (2022.462, 52.8), (2022.496, 50.9), (2022.513, 47.3), (2022.513, 43.6), (2022.531, 41.8), (2022.41, 61.9),
            (2022.479, 74.6), (2022.531, 87.4), (2022.548, 84.6), (2022.565, 87.4), (2022.582, 88.3), (2022.6, 83.7),
            (2022.582, 80.1), (2022.565, 76.4), (2022.548, 74.6), (2022.6, 72.8), (2022.617, 69.1), (2022.634, 65.5),
            (2022.634, 61.9), (2022.651, 58.2), (2022.668, 61.9), (2022.685, 67.3), (2022.702, 71), (2022.702, 73.7),
            (2022.685, 80.1), (2022.668, 77.3), (2022.634, 84.6), (2022.651, 81.9), (2022.702, 83.7), (2022.668, 88.3),
            (2022.634, 49.1), (2022.651, 43.6), (2022.651, 38.2), (2022.617, 47.3), (2022.668, 45.5), (2022.565, 63.7),
            (2022.6, 65.5),
            (2022.54, 80), (2022.555, 82), (2022.56, 70), (2022.57, 84), (2022.575, 68), (2022.59, 86),
            (2022.595, 76), (2022.61, 80), (2022.615, 74), (2022.625, 86), (2022.63, 70), (2022.645, 76),
            (2022.65, 68), (2022.66, 84), (2022.665, 72), (2022.675, 64), (2022.68, 86), (2022.69, 76),
            (2022.695, 68), (2022.71, 78), (2022.64, 56), (2022.655, 52), (2022.62, 60), (2022.60, 58),
            (2022.58, 60), (2022.705, 58), (2022.69, 40)]


def to_dates(dec):
    dec = np.asarray(dec, dtype=float)
    yrs = np.floor(dec).astype(int)
    base = pd.to_datetime([f"{y}-01-01" for y in yrs])
    return base + pd.to_timedelta((dec - yrs) * 365.25, unit="D")


obs_all = obs_2018 + obs_2019 + obs_2020 + obs_2021 + obs_2022
obs_t = [p[0] for p in obs_all]
obs_v = [p[1] for p in obs_all]

# ---------------- figure ----------------
fig = plt.figure(figsize=(12.16, 4.18), dpi=100)
ax = fig.add_axes([85 / 1216, 1 - 375 / 418, (1152 - 85) / 1216, (375 - 63) / 418])
ax2 = ax.twinx()

c_obs = "#9fc5e8"
c_model = "#4d8fc8"
c_odi = "#c8560f"
c_left = "#6fa3d6"
c_right = "#f08a30"

h_obs = ax.scatter(to_dates(obs_t), obs_v, s=74, color=c_obs, linewidths=0, zorder=1, label="Obs sensor 1")
h_mod, = ax.plot(to_dates(model_t), model_v, color=c_model, lw=1.3, zorder=2, label="Model boxysat")
h_odi, = ax2.plot(to_dates(odi_t), odi_v, color=c_odi, lw=1.7, label="ODI33rev")

ax.set_ylim(20, 105.3)
ax2.set_ylim(0, 1.0)
ax.set_xlim(to_dates([2017.750])[0], to_dates([2023.245])[0])

ax.set_yticks([20, 30, 40, 50, 60, 70, 80, 90, 100])
ax2.set_yticks([0.0, 0.2, 0.4, 0.6, 0.8, 1.0])
ax.tick_params(axis="y", labelcolor=c_left, labelsize=11)
ax2.tick_params(axis="y", labelcolor=c_right, labelsize=11)
ax.tick_params(axis="x", labelsize=11)
for lbl in ax.get_xticklabels():
    lbl.set_rotation(30)
    lbl.set_ha("right")

ax.set_ylabel("Oxygen Saturation [%]", color=c_left, fontsize=15.5, labelpad=6)
ax2.set_ylabel("Oxyen Deficiency Index ODI [AU]", color=c_right, fontsize=15.5, labelpad=6)

fig.text(600 / 1216, 1 - 31 / 418, "KielLH", fontsize=17, ha="center", va="center")
fig.text(10 / 1216, 1 - 32 / 418, "(d)", fontsize=16, ha="left", va="center")

fig.legend(handles=[h_obs, h_mod, h_odi], ncol=2, loc="lower right",
           bbox_to_anchor=(1136 / 1216, 1 - 62 / 418), fontsize=11.5, borderaxespad=0,
           columnspacing=2.5, handlelength=2.0, framealpha=1.0)

fig.savefig("out.png", dpi=100)
